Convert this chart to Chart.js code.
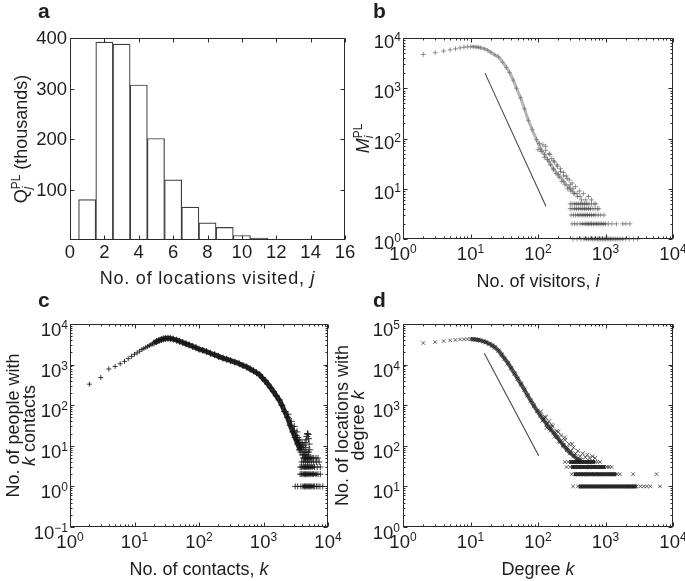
<!DOCTYPE html>
<html>
<head>
<meta charset="utf-8">
<script src="https://cdn.jsdelivr.net/npm/chart.js@4.4.1/dist/chart.umd.min.js"></script>
<style>
  html, body { margin: 0; padding: 0; background: #fff; }
  #fig { position: relative; width: 685px; height: 581px; overflow: hidden; }
  #fig canvas { position: absolute; }
</style>
</head>
<body>
<div id="fig">
  <canvas id="panelA" width="372" height="290" style="left:0;top:0"></canvas>
  <canvas id="panelB" width="345" height="290" style="left:340px;top:0"></canvas>
  <canvas id="panelC" width="345" height="291" style="left:0;top:290px"></canvas>
  <canvas id="panelD" width="365" height="291" style="left:320px;top:290px"></canvas>
</div>
<script>
// ---------- values ----------
// a: people by number of locations visited (thousands)
const visitsJ = [1, 2, 3, 4, 5, 6, 7, 8, 9, 10, 11, 12, 13];
const visitsQ = [80, 392, 388, 307, 201, 119, 65, 34, 25, 9, 4, 1.5, 0.8];
const aXTicks = [0, 2, 4, 6, 8, 10, 12, 14, 16];
const aYTicks = [100, 200, 300, 400];

// b: locations by number of visitors
const bSparseX = [2, 3, 4, 5, 6, 7, 8, 9];
const bSparseY = [4700, 5100, 5500, 5800, 6100, 6350, 6550, 6650];
const bCurveX = [10, 11, 12, 13, 14, 16, 18, 20, 23, 26, 30, 34, 38, 43, 48, 55, 63, 72, 82, 95, 110, 125, 145, 170, 200, 240, 290, 350];
const bCurveY = [6700, 6700, 6650, 6550, 6400, 6100, 5700, 5200, 4600, 4200, 3300, 2600, 2050, 1450, 1000, 650, 390, 230, 150, 95, 62, 48, 35, 25, 19, 14, 10.5, 8];
const bScatX = [100, 105, 112, 118, 124, 130, 138, 146, 152, 160, 168, 176, 185, 195, 205, 215, 225, 238, 250, 262, 275, 290, 305, 320, 340, 360, 385, 410, 440, 470, 510, 560, 620, 130, 150, 170, 190, 215, 240, 270, 300, 330, 380, 420];
const bScatY = [60, 80, 55, 75, 42, 58, 38, 50, 30, 40, 24, 34, 20, 28, 17, 25, 14, 21, 12, 18, 10, 15, 9, 13, 8, 11, 7, 9, 6, 8, 6, 7, 6, 70, 48, 36, 30, 22, 18, 16, 12, 10, 8, 7];
const bBand5X = [300, 320, 345, 370, 400, 430, 460, 490, 530, 570, 620, 680, 720];
const bBand4X = [300, 320, 345, 370, 400, 430, 460, 490, 520, 560, 600, 650, 700, 760, 800];
const bBand3X = [310, 335, 360, 390, 420, 450, 480, 510, 540, 580, 620, 670, 720, 780, 850, 950];
const bBand2X = [320, 350, 380, 420, 460, 500, 530, 560, 590, 620, 660, 700, 740, 780, 830, 880, 940, 1000, 1100, 1250, 1450, 1800, 2000, 2300];
const bBand1X = [330, 380, 430, 480, 520, 560, 600, 640, 680, 720, 760, 800, 850, 900, 950, 1000, 1060, 1120, 1180, 1250, 1330, 1420, 1520, 1650, 1800, 2000, 2250, 2600, 3000];
const bCoreLevel = [5, 4, 3, 2, 1];
const bCoreFrom = [340, 340, 370, 430, 480];
const bCoreTo = [560, 620, 700, 1000, 1900];
const bFitX = [16.4, 131];
const bFitY = [2000, 4.5];

// c: people by number of contacts
const cSparseX = [2, 3, 4, 5, 6, 7, 8, 9, 10, 11, 12, 13, 14, 15, 16, 17, 18, 19];
const cSparseY = [330, 480, 780, 900, 1050, 1200, 1400, 1600, 1800, 1950, 2150, 2350, 2500, 2650, 2800, 2950, 3100, 3250];
const cCurveX = [20, 22, 24, 26, 28, 30, 33, 36, 40, 45, 50, 56, 63, 70, 80, 90, 100, 115, 130, 150, 175, 200, 235, 270, 310, 360, 420, 480, 550, 620, 700, 780, 870, 960, 1060, 1170, 1300, 1430, 1580, 1750, 1930, 2130, 2350, 2600, 2850, 3100, 3400, 3700];
const cCurveY = [3400, 3700, 3950, 4150, 4300, 4400, 4450, 4400, 4250, 4000, 3750, 3500, 3250, 3050, 2800, 2600, 2400, 2250, 2100, 1900, 1750, 1600, 1450, 1350, 1250, 1150, 1050, 950, 870, 780, 700, 630, 560, 470, 400, 330, 265, 215, 170, 135, 100, 70, 50, 32, 22, 16, 11, 8];
const cTailX = [3000, 3200, 3300, 3400, 3500, 3600, 3700, 3800, 3900, 4000, 4100, 4200, 4300, 4400, 4500, 4600, 4700, 4800, 4900, 5000, 5100, 5200, 4500, 4700, 4900, 5000, 3600, 3800, 4000, 4200, 4400, 2400, 2700, 3000, 3300];
const cTailY = [24, 18, 14, 16, 12, 14, 10, 12, 9, 11, 8, 10, 7, 12, 9, 14, 17, 20, 19, 15, 11, 8, 6, 7, 6, 7, 8, 7, 6, 6, 5, 60, 40, 30, 22];
const cBand5X = [4100, 4300, 4500, 4700, 4900, 5100, 5400, 5700, 6000, 6500, 7000];
const cBand4X = [3900, 4200, 4500, 4800, 5100, 5500, 6000, 6600, 7300];
const cBand3X = [3700, 3900, 4100, 4300, 4500, 4700, 4900, 5100, 5400, 5700, 6200, 6800, 7600];
const cBand2X = [3700, 3900, 4100, 4300, 4500, 4700, 4900, 5100, 5400, 5700, 6000, 6500, 7000, 7600];
const cBand1X = [3100, 3400, 3800, 4100, 4300, 4500, 4700, 4900, 5100, 5300, 5600, 5900, 6200, 6600, 7000, 7500, 8300];
const cCoreLevel = [5, 3, 2, 1];
const cCoreFrom = [4300, 4000, 4000, 4000];
const cCoreTo = [5600, 6200, 6800, 6000];

// d: locations by degree
const dSparseX = [2, 3, 4, 5, 6, 7, 8, 9];
const dSparseY = [34000, 36000, 38000, 39500, 40500, 41500, 42000, 42500];
const dCurveX = [10, 11, 12, 13, 14, 15.5, 17, 19, 21, 23, 26, 29, 32, 36, 40, 45, 50, 56, 63, 70, 78, 87, 97, 108, 120, 135, 150, 170, 190, 215, 240, 270, 300, 340, 380, 430];
const dCurveY = [42500, 42000, 41500, 40500, 39500, 37500, 35500, 32500, 29500, 26500, 22000, 17500, 14000, 10800, 8200, 6000, 4500, 3300, 2400, 1750, 1300, 970, 730, 560, 440, 340, 270, 210, 165, 128, 100, 80, 66, 56, 48, 44];
const dScatX = [110, 118, 126, 135, 145, 155, 165, 178, 190, 205, 220, 235, 250, 270, 290, 310, 335, 360, 390, 420, 460, 500, 540, 580, 640, 700, 130, 160, 200, 250, 320];
const dScatY = [700, 420, 520, 280, 400, 240, 300, 170, 230, 130, 180, 105, 140, 90, 110, 75, 90, 65, 75, 55, 65, 52, 60, 50, 55, 50, 500, 330, 220, 160, 110];
const dBand40X = [250, 280, 310, 340, 370, 400, 440, 480, 530, 580, 640, 700, 760, 830];
const dBand30X = [265, 300, 330, 360, 400, 440, 480, 530, 580, 640, 700, 780, 860, 950, 1050, 1130, 1230];
const dBand20X = [316, 350, 390, 430, 470, 520, 570, 620, 680, 740, 810, 880, 960, 1050, 1150, 1250, 1350, 1480, 1630, 2560, 5700];
const dBand10X = [330, 390, 430, 470, 510, 560, 610, 660, 720, 780, 850, 920, 1000, 1080, 1170, 1270, 1380, 1500, 1630, 1770, 1920, 2080, 2250, 2450, 2650, 2900, 3300, 3700, 4100, 4600, 6400];
const dCoreLevel = [40, 30, 20, 10];
const dCoreFrom = [290, 310, 340, 400];
const dCoreTo = [700, 1000, 1450, 2900];
const dFitX = [16, 103];
const dFitY = [19000, 56];

// tick exponents of the log axes
const bXExp = [0, 1, 2, 3, 4], bYExp = [0, 1, 2, 3, 4];
const cXExp = [0, 1, 2, 3, 4], cYExp = [-1, 0, 1, 2, 3, 4];
const dXExp = [0, 1, 2, 3, 4], dYExp = [0, 1, 2, 3, 4, 5];

// ---------- text helpers ----------
const FONT = '"Liberation Sans", Arial, Helvetica, sans-serif';
const INK = '#1e1e1e';

function fontFor(s, base) {
  const size = (s.sup || s.sub) ? 12 : base;
  return (s.b ? 'bold ' : '') + (s.it ? 'italic ' : '') + size + 'px ' + FONT;
}

function drawRich(ctx, segs, x, y, align, base = 18, spacing = 0) {
  ctx.letterSpacing = spacing + 'px';
  let end = 0, prevStart = 0;
  const items = segs.map(s => {
    ctx.font = fontFor(s, base);
    const w = ctx.measureText(s.t).width;
    const start = s.over ? prevStart : end;
    end = Math.max(end, start + w);
    prevStart = start;
    return { s, start };
  });
  const x0 = align === 'center' ? x - end / 2 : align === 'right' ? x - end : x;
  ctx.textAlign = 'left';
  ctx.textBaseline = 'alphabetic';
  items.forEach(({ s, start }) => {
    ctx.font = fontFor(s, base);
    const dy = s.sup ? -7 : s.sub ? 4 : 0;
    ctx.fillText(s.t, x0 + start, y + dy);
  });
  ctx.letterSpacing = '0px';
}

const pow = e => [{ t: '10' }, { t: String(e).replace('-', '\u2212'), sup: true }];

// box, inward ticks on all sides, labels and titles (MATLAB look)
const framePlugin = {
  id: 'frame',
  afterDatasetsDraw(chart, args, o) {
    const { ctx, chartArea: a, scales } = chart;
    const sx = scales.x, sy = scales.y;
    const L = Math.round(a.left) + 0.5, R = Math.round(a.right) - 0.5;
    const T = Math.round(a.top) + 0.5, B = Math.round(a.bottom) - 0.5;
    ctx.save();
    ctx.strokeStyle = '#2a2a2a';
    ctx.fillStyle = INK;
    ctx.lineWidth = 1;
    ctx.beginPath();
    const tickX = (v, len) => {
      const p = Math.round(sx.getPixelForValue(v)) + 0.5;
      ctx.moveTo(p, B); ctx.lineTo(p, B - len);
      ctx.moveTo(p, T); ctx.lineTo(p, T + len);
    };
    const tickY = (v, len) => {
      const p = Math.round(sy.getPixelForValue(v)) + 0.5;
      ctx.moveTo(L, p); ctx.lineTo(L + len, p);
      ctx.moveTo(R, p); ctx.lineTo(R - len, p);
    };
    const majors = (list, log) => log ? list.map(e => Math.pow(10, e)) : list;
    const minors = list => {
      const out = [];
      for (let i = 0; i < list.length - 1; i++)
        for (let k = 2; k < 10; k++) out.push(k * Math.pow(10, list[i]));
      return out;
    };
    majors(o.xTicks, o.xLog).forEach(v => tickX(v, 4));
    majors(o.yTicks, o.yLog).forEach(v => tickY(v, 4));
    if (o.xLog) minors(o.xTicks).forEach(v => tickX(v, 2));
    if (o.yLog) minors(o.yTicks).forEach(v => tickY(v, 2));
    ctx.stroke();
    ctx.strokeRect(L, T, R - L, B - T);

    // tick labels
    o.xTicks.forEach(t => {
      const v = o.xLog ? Math.pow(10, t) : t;
      const segs = o.xLog ? pow(t) : [{ t: String(t) }];
      drawRich(ctx, segs, sx.getPixelForValue(v), a.bottom + o.xLabDy, 'center', 18.5);
    });
    o.yTicks.forEach(t => {
      const v = o.yLog ? Math.pow(10, t) : t;
      const segs = o.yLog ? pow(t) : [{ t: String(t) }];
      drawRich(ctx, segs, a.left - o.yLabGap, sy.getPixelForValue(v) + o.yLabDy, 'right', 18.5);
    });

    // axis titles
    drawRich(ctx, o.xTitle, (a.left + a.right) / 2, a.bottom + o.xTitleDy, 'center', 18, o.xTitleLs || 0);
    o.yTitle.forEach((line, i) => {
      ctx.save();
      ctx.translate(a.left + o.yTitleDx[i], (a.top + a.bottom) / 2);
      ctx.rotate(-Math.PI / 2);
      drawRich(ctx, line, 0, 0, 'center');
      ctx.restore();
    });

    // panel letter
    ctx.font = 'bold 21px ' + FONT;
    ctx.textAlign = 'left';
    ctx.fillText(o.letter, a.left + o.letterDx, a.top + o.letterDy);
    ctx.restore();
  }
};
Chart.register(framePlugin);

// ---------- dataset helpers ----------
const pts = (xs, ys) => xs.map((x, i) => ({ x, y: ys[i] }));
const band = (xs, v) => xs.map(x => ({ x, y: v }));

function marks(data, style, color, r) {
  return {
    data, showLine: false, clip: 8,
    pointStyle: style, pointRadius: r, pointHoverRadius: r,
    pointBorderColor: color, pointBackgroundColor: 'transparent', pointBorderWidth: 1
  };
}
// dense runs of markers merge into a solid streak in the original
function streak(data, color, width, style, r) {
  return Object.assign(marks(data, style, color, r), {
    showLine: true, borderColor: color, borderWidth: width, tension: 0.3
  });
}
function cores(levels, from, to, color, width) {
  return levels.map((v, i) => ({
    data: [{ x: from[i], y: v }, { x: to[i], y: v }],
    showLine: true, borderColor: color, borderWidth: width, pointRadius: 0, clip: 8
  }));
}
function fitLine(data) {
  return { data, showLine: true, borderColor: '#4a4a4a', borderWidth: 1.1, pointRadius: 0, clip: false };
}

function opts(padding, xScale, yScale, frame) {
  return {
    responsive: false,
    animation: false,
    events: [],
    layout: { padding },
    plugins: { legend: { display: false }, tooltip: { enabled: false }, frame },
    scales: {
      x: Object.assign({ display: false }, xScale),
      y: Object.assign({ display: false }, yScale)
    }
  };
}

// ---------- panel a ----------
new Chart(document.getElementById('panelA'), {
  type: 'bar',
  data: {
    datasets: [{
      data: pts(visitsJ, visitsQ),
      backgroundColor: '#ffffff',
      borderColor: '#3c3c3c',
      borderWidth: 1.2,
      borderSkipped: 'start',
      barPercentage: 1,
      categoryPercentage: 1
    }]
  },
  options: opts(
    { left: 70, top: 38, right: 27, bottom: 50 },
    { type: 'linear', min: 0, max: 16, offset: false },
    { type: 'linear', min: 0, max: 400 },
    {
      letter: 'a', letterDx: -32, letterDy: -20,
      xTicks: aXTicks, yTicks: aYTicks, xLog: false, yLog: false,
      xLabDy: 18, yLabGap: 3, yLabDy: 6,
      xTitle: [{ t: 'No. of locations visited, ' }, { t: 'j', it: true }], xTitleDy: 44, xTitleLs: 0.8,
      yTitle: [[{ t: 'Q' }, { t: 'j', it: true, sub: true }, { t: 'PL', sup: true, over: true }, { t: ' (thousands)' }]],
      yTitleDx: [-43]
    }
  )
});

// ---------- panel b ----------
const bInk = 'rgba(70,70,70,0.55)';
new Chart(document.getElementById('panelB'), {
  type: 'scatter',
  data: {
    datasets: [
      ...cores(bCoreLevel, bCoreFrom, bCoreTo, 'rgba(60,60,60,0.45)', 2.5),
      marks(pts(bSparseX, bSparseY), 'cross', bInk, 2.5),
      streak(pts(bCurveX, bCurveY), 'rgba(90,90,90,0.45)', 3, 'cross', 2.5),
      marks(pts(bScatX, bScatY), 'cross', bInk, 2.5),
      marks(band(bBand5X, 5), 'cross', bInk, 2.5),
      marks(band(bBand4X, 4), 'cross', bInk, 2.5),
      marks(band(bBand3X, 3), 'cross', bInk, 2.5),
      marks(band(bBand2X, 2), 'cross', bInk, 2.5),
      marks(band(bBand1X, 1), 'cross', bInk, 2.5),
      fitLine(pts(bFitX, bFitY))
    ]
  },
  options: opts(
    { left: 63, top: 38, right: 12, bottom: 51 },
    { type: 'logarithmic', min: 1, max: 1e4 },
    { type: 'logarithmic', min: 1, max: 1e4 },
    {
      letter: 'b', letterDx: -30, letterDy: -20,
      xTicks: bXExp, yTicks: bYExp, xLog: true, yLog: true,
      xLabDy: 21, yLabGap: 2, yLabDy: 10,
      xTitle: [{ t: 'No. of visitors, ' }, { t: 'i', it: true }], xTitleDy: 48,
      yTitle: [[{ t: 'M', it: true }, { t: 'i', it: true, sub: true }, { t: 'PL', sup: true, over: true }]],
      yTitleDx: [-34]
    }
  )
});

// ---------- panel c ----------
const cInk = 'rgba(25,25,25,0.85)';
new Chart(document.getElementById('panelC'), {
  type: 'scatter',
  data: {
    datasets: [
      ...cores(cCoreLevel, cCoreFrom, cCoreTo, 'rgba(20,20,20,0.85)', 3.5),
      marks(pts(cSparseX, cSparseY), 'cross', cInk, 2.5),
      streak(pts(cCurveX, cCurveY), 'rgba(20,20,20,0.9)', 5, 'cross', 3.5),
      marks(pts(cTailX, cTailY), 'cross', cInk, 3.5),
      marks(band(cBand5X, 5), 'cross', cInk, 3),
      marks(band(cBand4X, 4), 'cross', cInk, 3),
      marks(band(cBand3X, 3), 'cross', cInk, 3),
      marks(band(cBand2X, 2), 'cross', cInk, 3),
      marks(band(cBand1X, 1), 'cross', cInk, 3)
    ]
  },
  options: opts(
    { left: 70, top: 34, right: 17, bottom: 54 },
    { type: 'logarithmic', min: 1, max: 1e4 },
    { type: 'logarithmic', min: 0.1, max: 1e4 },
    {
      letter: 'c', letterDx: -32, letterDy: -17,
      xTicks: cXExp, yTicks: cYExp, xLog: true, yLog: true,
      xLabDy: 21, yLabGap: 2, yLabDy: 12,
      xTitle: [{ t: 'No. of contacts, ' }, { t: 'k', it: true }], xTitleDy: 48,
      yTitle: [[{ t: 'No. of people with' }], [{ t: 'k', it: true }, { t: ' contacts' }]],
      yTitleDx: [-51, -35]
    }
  )
});

// ---------- panel d ----------
const dInk = 'rgba(30,30,30,0.7)';
new Chart(document.getElementById('panelD'), {
  type: 'scatter',
  data: {
    datasets: [
      ...cores(dCoreLevel, dCoreFrom, dCoreTo, 'rgba(20,20,20,0.85)', 4),
      marks(pts(dSparseX, dSparseY), 'crossRot', dInk, 2.5),
      streak(pts(dCurveX, dCurveY), 'rgba(30,30,30,0.75)', 4, 'crossRot', 3),
      marks(pts(dScatX, dScatY), 'crossRot', dInk, 3),
      marks(band(dBand40X, 40), 'crossRot', dInk, 2.5),
      marks(band(dBand30X, 30), 'crossRot', dInk, 2.5),
      marks(band(dBand20X, 20), 'crossRot', dInk, 2.5),
      marks(band(dBand10X, 10), 'crossRot', dInk, 2.5),
      fitLine(pts(dFitX, dFitY))
    ]
  },
  options: opts(
    { left: 83, top: 34, right: 12, bottom: 54 },
    { type: 'logarithmic', min: 1, max: 1e4 },
    { type: 'logarithmic', min: 1, max: 1e5 },
    {
      letter: 'd', letterDx: -30, letterDy: -17,
      xTicks: dXExp, yTicks: dYExp, xLog: true, yLog: true,
      xLabDy: 21, yLabGap: 3, yLabDy: 12,
      xTitle: [{ t: 'Degree ' }, { t: 'k', it: true }], xTitleDy: 48,
      yTitle: [[{ t: 'No. of locations with' }], [{ t: 'degree ' }, { t: 'k', it: true }]],
      yTitleDx: [-55, -39]
    }
  )
});
</script>
</body>
</html>
